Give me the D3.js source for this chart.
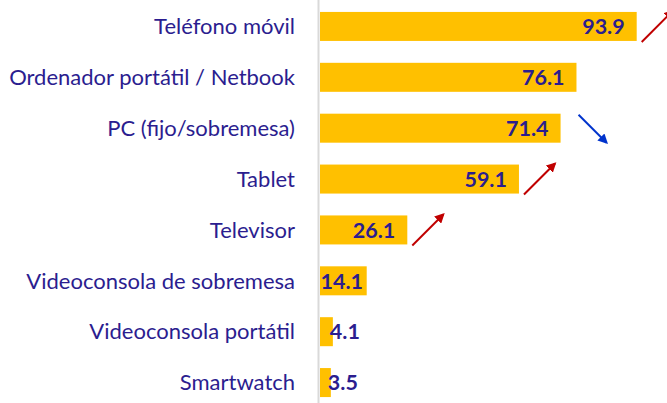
<!DOCTYPE html>
<html>
<head>
<meta charset="utf-8">
<script src="https://cdn.jsdelivr.net/npm/d3@7"></script>
<style>
  html, body { margin: 0; padding: 0; background: #fff; }
  svg { display: block; }
</style>
</head>
<body>
<script>
// data
const categories = [
  'Teléfono móvil',
  'Ordenador portátil / Netbook',
  'PC (fijo/sobremesa)',
  'Tablet',
  'Televisor',
  'Videoconsola de sobremesa',
  'Videoconsola portátil',
  'Smartwatch'
];
const values = [93.9, 76.1, 71.4, 59.1, 26.1, 14.1, 4.1, 3.5];
const trends = ['up', null, 'down', 'up', 'up', null, null, null];

const width = 667;
const height = 403;
const x0 = 319;

const rows = categories.map((c, i) => ({ name: c, value: values[i], trend: trends[i] }));

const svg = d3.select('body')
  .append('svg')
  .attr('width', width)
  .attr('height', height);

const defs = svg.append('defs');
[['up', '#c00000'], ['down', '#0033cc']].forEach(([id, col]) => {
  defs.append('marker')
    .attr('id', 'head-' + id)
    .attr('viewBox', '0 0 10 10')
    .attr('refX', 8).attr('refY', 5)
    .attr('markerWidth', 5).attr('markerHeight', 5)
    .attr('orient', 'auto')
    .append('path')
    .attr('d', 'M0,0 L10,5 L0,10 z')
    .attr('fill', col);
});

const x = d3.scaleLinear()
  .domain([0, 93.9])
  .range([x0, 636.7]);

const y = d3.scaleBand()
  .domain(categories)
  .range([1, 408])
  .paddingInner(0.43)
  .paddingOuter(0.215);

// vertical axis line
svg.append('line')
  .attr('x1', x0 - 0.5).attr('x2', x0 - 0.5)
  .attr('y1', 0).attr('y2', height)
  .attr('stroke', '#d9d9d9')
  .attr('stroke-width', 2);

svg.selectAll('rect.bar')
  .data(rows)
  .enter()
  .append('rect')
  .attr('class', 'bar')
  .attr('x', x0 + 1)
  .attr('y', d => y(d.name))
  .attr('width', d => x(d.value) - x0 - 1)
  .attr('height', y.bandwidth())
  .attr('fill', '#ffc000');

// category labels
svg.selectAll('text.cat')
  .data(rows)
  .enter()
  .append('text')
  .attr('class', 'cat')
  .attr('x', 295)
  .attr('y', d => y(d.name) + y.bandwidth() / 2)
  .attr('dy', '0.35em')
  .attr('text-anchor', 'end')
  .attr('fill', '#2b1d8f')
  .style('font-family', 'Lato, "Open Sans", sans-serif')
  .style('font-size', '22px')
  .text(d => d.name);

// value labels, inside end; moved when they do not fit
const vals = svg.selectAll('text.val')
  .data(rows)
  .enter()
  .append('text')
  .attr('class', 'val')
  .attr('y', d => y(d.name) + y.bandwidth() / 2)
  .attr('dy', '0.36em')
  .attr('fill', '#2b1d8f')
  .style('font-family', 'Lato, "Open Sans", sans-serif')
  .style('font-weight', 'bold')
  .style('font-size', '21.5px')
  .text(d => d.value.toFixed(1));

vals.each(function(d) {
  const w = this.getComputedTextLength();
  const end = x(d.value);
  let start = end - 12 - w;
  if (start < x0 + 1) {
    start = (end - x0) > w * 0.75 ? x0 + 1.5 : end - 3;
  }
  d3.select(this).attr('x', start);
});

// trend arrows
svg.selectAll('line.trend')
  .data(rows.filter(d => d.trend))
  .enter()
  .append('line')
  .attr('class', 'trend')
  .attr('x1', d => x(d.value) + (d.trend === 'up' ? 5 : 18))
  .attr('y1', d => d.trend === 'up' ? y(d.name) + y.bandwidth() + 1 : y(d.name) + 1)
  .attr('x2', d => x(d.value) + (d.trend === 'up' ? 36 : 46))
  .attr('y2', d => d.trend === 'up' ? y(d.name) - 1 : y(d.name) + y.bandwidth())
  .attr('stroke', d => d.trend === 'up' ? '#c00000' : '#0033cc')
  .attr('stroke-width', 2)
  .attr('marker-end', d => 'url(#head-' + d.trend + ')');
</script>
</body>
</html>
